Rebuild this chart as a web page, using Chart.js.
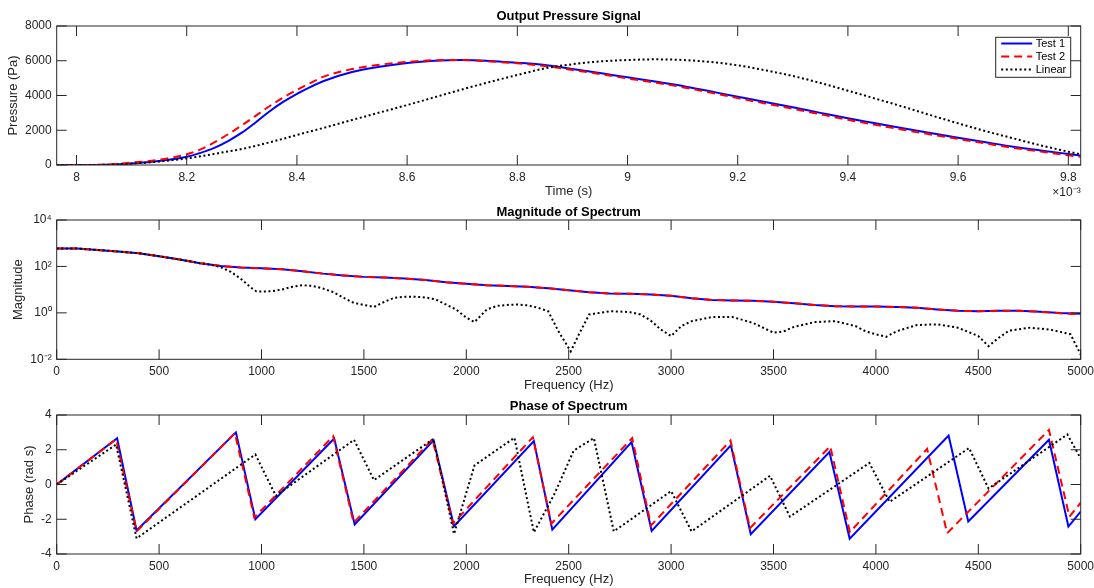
<!DOCTYPE html>
<html>
<head>
<meta charset="utf-8">
<style>
  html, body { margin: 0; padding: 0; background: #fff; }
  body { width: 1094px; height: 588px; position: relative; overflow: hidden; }
  canvas { position: absolute; left: 0; }
</style>
<script src="https://cdn.jsdelivr.net/npm/chart.js"></script>
</head>
<body>
<canvas id="pressureChart" width="1094" height="200" style="top:0px"></canvas>
<canvas id="magChart" width="1094" height="195" style="top:200px"></canvas>
<canvas id="phaseChart" width="1094" height="193" style="top:395px"></canvas>
<script>
// ---- data ----
const seriesNames = ['Test 1', 'Test 2', 'Linear'];

// top plot: time in ms (axis shows x10^-3 s)
const timeMs = [7.964, 8.0, 8.05, 8.1, 8.15, 8.2, 8.225, 8.25, 8.275, 8.3, 8.325, 8.35, 8.375, 8.4, 8.425, 8.45, 8.5, 8.55,
  8.6, 8.65, 8.7, 8.75, 8.8, 8.85, 8.9, 8.95, 9.0, 9.05, 9.1, 9.15, 9.2, 9.25, 9.3, 9.35, 9.4, 9.45, 9.5, 9.55, 9.6, 9.65,
  9.7, 9.75, 9.8, 9.8225];
const test1Pressure = [0, 0, 10, 90, 230, 470, 700, 990, 1380, 1860, 2450, 3080, 3630, 4100, 4500, 4850, 5350, 5650,
  5870, 6000, 6040, 5990, 5890, 5760, 5530, 5290, 5045, 4800, 4547, 4240, 3933, 3630, 3319, 3000, 2686, 2400, 2110, 1840,
  1573, 1310, 1055, 840, 633, 540];
const test2Pressure = [0, 0, 15, 140, 300, 620, 900, 1300, 1770, 2280, 2830, 3380, 3880, 4320, 4730, 5100, 5520, 5770,
  5930, 6030, 6040, 5960, 5850, 5700, 5470, 5230, 4980, 4740, 4480, 4170, 3850, 3540, 3240, 2920, 2600, 2310, 2030, 1760,
  1500, 1240, 990, 770, 560, 470];
const linearPressure = [0, 0, 10, 80, 200, 380, 500, 640, 780, 920, 1100, 1300, 1510, 1730, 1940, 2150, 2590, 3020,
  3450, 3900, 4350, 4780, 5180, 5560, 5800, 5960, 6043, 6080, 6043, 5930, 5736, 5450, 5122, 4720, 4278, 3820, 3357, 2870,
  2398, 1950, 1535, 1130, 767, 620];

// middle plot: magnitude of spectrum
const freqHz = [0, 100, 200, 300, 400, 500, 600, 700, 800, 900, 1000, 1100, 1200, 1300, 1400, 1500, 1600, 1700, 1800, 1900,
  2000, 2100, 2200, 2300, 2400, 2500, 2600, 2700, 2800, 2900, 3000, 3100, 3200, 3300, 3400, 3500, 3600, 3700, 3800, 3900,
  4000, 4100, 4200, 4300, 4400, 4500, 4600, 4700, 4800, 4900, 5000];
const test1Mag = [586, 589, 513, 437, 372, 275, 200, 138, 105, 89, 83, 76, 62, 49, 41, 35.5, 33, 30, 26.3, 21,
  17.8, 15.5, 14.5, 13.2, 11.5, 9.5, 7.8, 6.8, 6.6, 6.2, 5.4, 4.3, 3.6, 3.4, 3.3, 3.0, 2.6, 2.2, 1.95, 1.9,
  1.9, 1.8, 1.66, 1.41, 1.23, 1.17, 1.23, 1.23, 1.12, 0.98, 0.91];
const test2Mag = [586, 589, 513, 437, 372, 275, 200, 138, 105, 89, 83, 76, 62, 49, 41, 35.5, 33, 30, 26.3, 21,
  17.8, 15.5, 14.5, 13.2, 11.5, 9.5, 7.8, 6.8, 6.6, 6.2, 5.4, 4.3, 3.6, 3.4, 3.3, 3.0, 2.6, 2.2, 1.95, 1.9,
  1.9, 1.8, 1.66, 1.41, 1.23, 1.17, 1.23, 1.23, 1.12, 0.96, 0.86];
const linFreqHz = [0, 100, 200, 300, 400, 500, 600, 700, 750, 800, 850, 900, 950, 975, 1000, 1050, 1100, 1150, 1200, 1250,
  1300, 1350, 1400, 1450, 1500, 1550, 1600, 1650, 1700, 1750, 1800, 1850, 1900, 1950, 2000, 2040, 2100, 2150, 2200, 2250,
  2300, 2350, 2400, 2450, 2510, 2550, 2600, 2700, 2750, 2800, 2850, 2900, 2950, 3000, 3050, 3100, 3200, 3300, 3400, 3500,
  3550, 3600, 3700, 3800, 3900, 3950, 4000, 4050, 4100, 4200, 4300, 4400, 4500, 4550, 4600, 4650, 4750, 4850, 4950, 5000];
const linearMag = [586, 589, 513, 437, 372, 275, 200, 138, 120, 93, 59, 29, 12, 8.5, 8.3, 8.5, 10.2, 13.2, 15.5, 14.5,
  11.2, 7.8, 4.5, 2.7, 2.2, 1.8, 3.0, 4.5, 4.9, 5.0, 4.6, 3.8, 2.3, 1.4, 0.62, 0.40, 1.4, 2.0, 2.2, 2.3,
  2.1, 1.66, 1.17, 0.16, 0.022, 0.12, 0.85, 1.17, 1.15, 1.07, 0.85, 0.47, 0.19, 0.10, 0.27, 0.44, 0.66, 0.66, 0.37, 0.14,
  0.16, 0.25, 0.40, 0.44, 0.27, 0.16, 0.12, 0.093, 0.16, 0.30, 0.32, 0.23, 0.10, 0.037, 0.085, 0.17, 0.23, 0.19, 0.12, 0.016];

// bottom plot: phase of spectrum (corner points of each sawtooth)
const test1PhaseHz = [0, 295, 390, 875, 970, 1355, 1455, 1840, 1940, 2330, 2420, 2807, 2905, 3292, 3389, 3773, 3872,
  4355, 4451, 4845, 4940, 5000];
const test1Phase = [0, 2.66, -2.65, 3.0, -2.0, 2.65, -2.3, 2.55, -2.4, 2.5, -2.6, 2.44, -2.67, 2.25, -2.86, 1.87, -3.12,
  2.82, -2.13, 2.57, -2.42, -1.56];
const test2PhaseHz = [0, 290, 390, 870, 965, 1350, 1450, 1835, 1935, 2325, 2415, 2810, 2902, 3290, 3385, 3777, 3873,
  4250, 4348, 4845, 4945, 5000];
const test2Phase = [0, 2.6, -2.7, 2.95, -1.9, 2.78, -2.2, 2.6, -2.25, 2.72, -2.25, 2.67, -2.36, 2.53, -2.51, 2.2, -2.74,
  2.05, -2.8, 3.14, -1.85, -1.05];
const linearPhaseHz = [0, 290, 390, 970, 1070, 1452, 1549, 1840, 1940, 2040, 2235, 2330, 2428, 2525, 2623, 2720, 3000,
  3100, 3483, 3580, 3968, 4067, 4455, 4550, 4935, 5000];
const linearPhase = [0, 2.3, -3.1, 1.73, -0.65, 2.57, 0.25, 2.63, -2.85, 1.1, 2.69, -2.75, -0.6, 1.96, 2.67, -2.7, -0.38,
  -2.7, 0.5, -1.85, 1.24, -1.0, 2.1, -0.23, 2.88, 1.49];

// tick labels
const timeTicks = [8, 8.2, 8.4, 8.6, 8.8, 9, 9.2, 9.4, 9.6, 9.8];
const pressureTicks = [0, 2000, 4000, 6000, 8000];
const freqTicks = [0, 500, 1000, 1500, 2000, 2500, 3000, 3500, 4000, 4500, 5000];
const magTicks = [0.01, 1, 100, 10000];
const phaseTicks = [-4, -2, 0, 2, 4];

// ---- styling ----
const FONT = '"Liberation Sans", Arial, Helvetica, sans-serif';
const AXIS = '#262626';
const BLUE = '#0000ff', RED = '#ff0000', BLACK = '#000000';
Chart.defaults.font.family = FONT;
Chart.defaults.font.size = 12;
Chart.defaults.color = AXIS;

const SUP = {'-': '\u207B', '0': '\u2070', '1': '\u00B9', '2': '\u00B2', '3': '\u00B3', '4': '\u2074'};
const sup = s => String(s).split('').map(c => SUP[c]).join('');

const pts = (xs, ys) => xs.map((x, i) => ({x: x, y: ys[i]}));

function line(label, data, color, dash, order, smooth) {
  return {
    label: label, data: data, borderColor: color, backgroundColor: color,
    borderWidth: 2, borderDash: dash, borderCapStyle: 'butt', borderJoinStyle: 'miter',
    pointRadius: 0, fill: false, order: order,
    tension: 0, cubicInterpolationMode: smooth ? 'monotone' : 'default'
  };
}

// fix axis boxes so the three plot areas line up
function fitY(w) {
  return s => { s.width = w; s.paddingTop = 0; s.paddingBottom = 0; s.paddingLeft = 0; s.paddingRight = 0; };
}
function fitX(h) {
  return s => { s.height = h; s.paddingTop = 0; s.paddingBottom = 0; s.paddingLeft = 0; s.paddingRight = 0; };
}
const setTicks = vals => s => { s.ticks = vals.map(v => ({value: v})); };

// MATLAB style box with inward ticks on all four sides
const matlabAxes = {
  id: 'matlabAxes',
  afterDatasetsDraw(chart) {
    const {ctx, chartArea: a, scales} = chart;
    const L = 10;
    ctx.save();
    ctx.strokeStyle = AXIS;
    ctx.lineWidth = 1;
    ctx.beginPath();
    scales.x.ticks.forEach(t => {
      const p = scales.x.getPixelForValue(t.value);
      ctx.moveTo(p, a.bottom); ctx.lineTo(p, a.bottom - L);
      ctx.moveTo(p, a.top); ctx.lineTo(p, a.top + L);
    });
    scales.y.ticks.forEach(t => {
      const p = scales.y.getPixelForValue(t.value);
      ctx.moveTo(a.left, p); ctx.lineTo(a.left + L, p);
      ctx.moveTo(a.right, p); ctx.lineTo(a.right - L, p);
    });
    ctx.stroke();
    ctx.strokeRect(a.left, a.top, a.right - a.left, a.bottom - a.top);
    ctx.restore();
  }
};

const legendBox = {
  id: 'legendBox',
  afterDatasetsDraw(chart) {
    const {ctx, chartArea: a} = chart;
    const w = 75, h = 40;
    const x0 = a.right - 10 - w, y0 = a.top + 11.3;
    ctx.save();
    ctx.fillStyle = '#fff';
    ctx.fillRect(x0, y0, w, h);
    ctx.strokeStyle = AXIS;
    ctx.lineWidth = 1;
    ctx.strokeRect(x0, y0, w, h);
    ctx.font = '11px ' + FONT;
    ctx.textBaseline = 'middle';
    chart.data.datasets.forEach((ds, i) => {
      const yy = y0 + 6.2 + i * 13;
      ctx.beginPath();
      ctx.setLineDash(ds.borderDash || []);
      ctx.strokeStyle = ds.borderColor;
      ctx.lineWidth = ds.borderWidth;
      ctx.moveTo(x0 + 5.5, yy);
      ctx.lineTo(x0 + 36.5, yy);
      ctx.stroke();
      ctx.setLineDash([]);
      ctx.fillStyle = '#000';
      ctx.fillText(ds.label, x0 + 40, yy);
    });
    ctx.restore();
  }
};

const expLabel = {
  id: 'expLabel',
  afterDraw(chart) {
    const {ctx, chartArea: a} = chart;
    ctx.save();
    ctx.font = '12px ' + FONT;
    ctx.fillStyle = AXIS;
    ctx.textAlign = 'right';
    ctx.textBaseline = 'middle';
    ctx.fillText('\u00D710' + sup(-3), a.right, 193);
    ctx.restore();
  }
};

function baseOptions(titleText, titlePad, rightPad) {
  return {
    responsive: false, animation: false, devicePixelRatio: 1,
    layout: {padding: {left: 0, right: rightPad, top: 0, bottom: 0}},
    plugins: {
      legend: {display: false},
      tooltip: {enabled: false},
      title: {display: true, text: titleText, fullSize: false, color: '#000',
        font: {size: 13, weight: 'bold'}, padding: titlePad}
    }
  };
}

function xAxis(min, max, ticks, label, height, titleBottom, fmt) {
  return {
    type: 'linear', min: min, max: max,
    afterBuildTicks: setTicks(ticks), afterFit: fitX(height),
    grid: {display: false, drawTicks: false}, border: {display: false},
    ticks: {padding: 5, maxRotation: 0, autoSkip: false, color: AXIS, callback: fmt},
    title: {display: true, text: label, color: AXIS, font: {size: 13}, padding: {top: 0, bottom: titleBottom}}
  };
}

function yAxis(type, min, max, ticks, label, titleLeft, fmt) {
  return {
    type: type, min: min, max: max,
    afterBuildTicks: setTicks(ticks), afterFit: fitY(56.7),
    grid: {display: false, drawTicks: false}, border: {display: false},
    ticks: {padding: 5, autoSkip: false, color: AXIS, callback: fmt},
    title: {display: true, text: label, color: AXIS, font: {size: 13}, padding: {top: titleLeft, bottom: 0}}
  };
}

const RIGHT = 1094 - 1080.7;

// ---- Output Pressure Signal ----
const opt1 = baseOptions('Output Pressure Signal', {top: 8.7, bottom: 1.7}, RIGHT);
opt1.scales = {
  x: xAxis(7.964, 9.8225, timeTicks, 'Time (s)', 35, 1.2, v => String(Math.round(v * 10) / 10)),
  y: yAxis('linear', 0, 8000, pressureTicks, 'Pressure (Pa)', 5.5, v => String(v))
};
new Chart(document.getElementById('pressureChart'), {
  type: 'line',
  data: {datasets: [
    line(seriesNames[0], pts(timeMs, test1Pressure), BLUE, [], 2, true),
    line(seriesNames[1], pts(timeMs, test2Pressure), RED, [8, 5], 1, true),
    line(seriesNames[2], pts(timeMs, linearPressure), BLACK, [2, 2.6], 0, true)
  ]},
  options: opt1,
  plugins: [matlabAxes, legendBox, expLabel]
});

// ---- Magnitude of Spectrum ----
const opt2 = baseOptions('Magnitude of Spectrum', {top: 4.2, bottom: 0.2}, RIGHT);
opt2.scales = {
  x: xAxis(0, 5000, freqTicks, 'Frequency (Hz)', 35.7, 2.2, v => String(v)),
  y: yAxis('logarithmic', 0.01, 10000, magTicks, 'Magnitude', 10.5, v => '10' + sup(Math.round(Math.log10(v))))
};
new Chart(document.getElementById('magChart'), {
  type: 'line',
  data: {datasets: [
    line(seriesNames[0], pts(freqHz, test1Mag), BLUE, [], 2, false),
    line(seriesNames[1], pts(freqHz, test2Mag), RED, [8, 5], 1, false),
    line(seriesNames[2], pts(linFreqHz, linearMag), BLACK, [2, 2.6], 0, false)
  ]},
  options: opt2,
  plugins: [matlabAxes]
});

// ---- Phase of Spectrum ----
const opt3 = baseOptions('Phase of Spectrum', {top: 3.3, bottom: 1.1}, RIGHT);
opt3.scales = {
  x: xAxis(0, 5000, freqTicks, 'Frequency (Hz)', 34, 0.9, v => String(v)),
  y: yAxis('linear', -4, 4, phaseTicks, 'Phase (rad s)', 21.2, v => String(v))
};
new Chart(document.getElementById('phaseChart'), {
  type: 'line',
  data: {datasets: [
    line(seriesNames[0], pts(test1PhaseHz, test1Phase), BLUE, [], 2, false),
    line(seriesNames[1], pts(test2PhaseHz, test2Phase), RED, [8, 5], 1, false),
    line(seriesNames[2], pts(linearPhaseHz, linearPhase), BLACK, [2, 2.6], 0, false)
  ]},
  options: opt3,
  plugins: [matlabAxes]
});
</script>
</body>
</html>
